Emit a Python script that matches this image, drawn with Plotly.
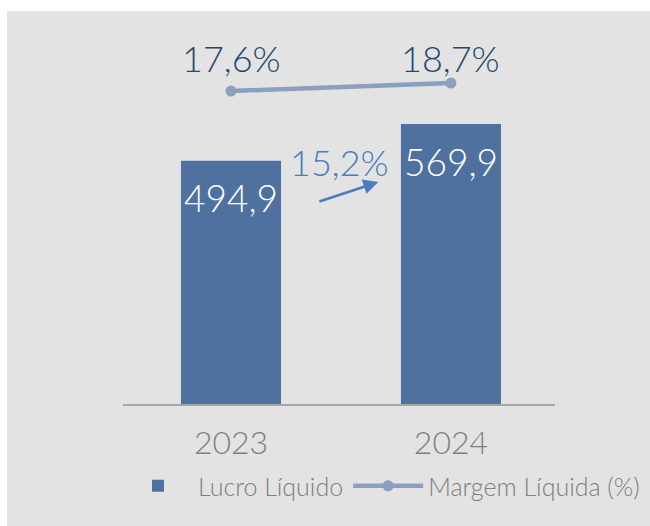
import plotly.graph_objects as go

years = ["2023", "2024"]
lucro = [494.9, 569.9]
margem = [17.6, 18.7]
lucro_labels = ["494,9", "569,9"]
margem_labels = ["17,6%", "18,7%"]
growth_label = "15,2%"

FONT = "Lato"
W, H = 650, 526
L, T = 123, 20
R = W - 555
B = H - 404
PW, PH = W - L - R, H - T - B

def px(xp):
    return (xp - L) / PW

def py(yp):
    return (H - B - yp) / PH

fig = go.Figure()
fig.add_trace(go.Bar(
    x=years, y=lucro, name="Lucro Líquido",
    marker=dict(color="#4f71a0", line=dict(width=0)),
    width=0.455,
))
fig.add_trace(go.Scatter(
    x=years, y=margem, name="Margem Líquida (%)", yaxis="y2",
    mode="lines+markers",
    line=dict(color="#8b9fc0", width=4.5),
    marker=dict(color="#8b9fc0", size=11),
))

ann = []
for i, (v, t) in enumerate(zip(lucro, lucro_labels)):
    ann.append(dict(x=i, y=v, xref="x", yref="y", text=t, showarrow=False,
                    yanchor="middle", yshift=-37,
                    font=dict(family=FONT, size=37, color="white", weight=300)))
for i, t in enumerate(margem_labels):
    ann.append(dict(x=i, y=py(58), xref="x", yref="y domain", text=t, showarrow=False,
                    yanchor="middle",
                    font=dict(family=FONT, size=36, color="#22486e", weight=300)))
ann.append(dict(x=0.495, y=py(162), xref="x", yref="y domain", text=growth_label,
                showarrow=False, yanchor="middle",
                font=dict(family=FONT, size=36, color="#4a7cc0", weight=300)))
ann.append(dict(x=0.67, y=py(182), xref="x", yref="y domain",
                ax=0.395, ay=py(202), axref="x", ayref="y domain",
                text="", showarrow=True, arrowhead=2, arrowsize=1.2, arrowwidth=2.5,
                arrowcolor="#4a7cc0"))

fig.update_layout(
    width=W, height=H,
    margin=dict(l=L, r=R, t=T, b=B, autoexpand=False),
    paper_bgcolor="white",
    plot_bgcolor="rgba(0,0,0,0)",
    font=dict(family=FONT, color="#7f7f7f", weight=300),
    bargap=0.5,
    xaxis=dict(type="category", range=[-0.491, 1.473], showline=True,
               linecolor="#a6a6a6", linewidth=2,
               ticks="", tickfont=dict(size=32, color="#7f7f7f", family=FONT, weight=300),
               ticklabelstandoff=10, showgrid=False, zeroline=False, fixedrange=True),
    yaxis=dict(range=[0, 781.6], visible=False, showgrid=False, zeroline=False),
    yaxis2=dict(range=[-25.45, 27.37], overlaying="y", visible=False,
                showgrid=False, zeroline=False),
    showlegend=True,
    legend=dict(orientation="h", x=px(645), y=py(486), xanchor="right", yanchor="middle",
                font=dict(size=25, color="#7f7f7f", family=FONT, weight=300),
                bgcolor="rgba(0,0,0,0)", itemwidth=70, traceorder="normal",
                tracegroupgap=0),
    annotations=ann,
    shapes=[dict(type="rect", xref="paper", yref="paper",
                 x0=px(7), x1=px(660), y0=py(540), y1=py(11),
                 fillcolor="#e3e3e3", line=dict(width=0), layer="below")],
)

fig.write_html("out.html", config={"displayModeBar": False},
               post_script="document.body.style.margin='0';")
